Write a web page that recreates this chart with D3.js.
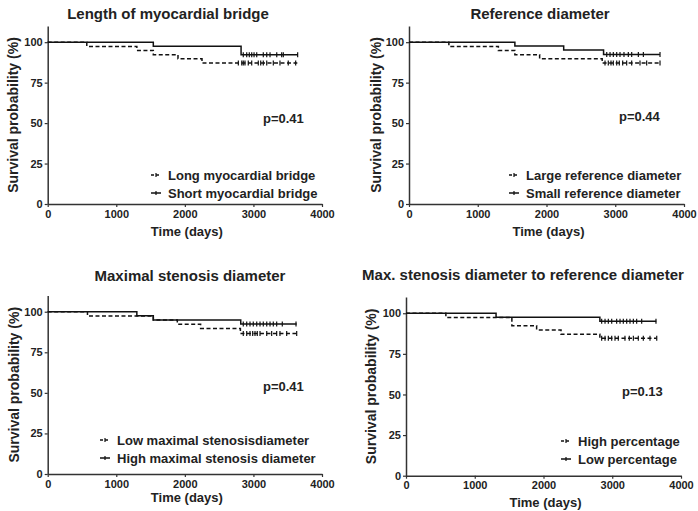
<html>
<head>
  <script src="https://d3js.org/d3.v7.min.js"></script>
  <style>
    body { margin: 0; padding: 0; background: #fff; }
    svg text { font-family: "Liberation Sans", Arial, sans-serif; font-weight: bold; fill: #222; }
  </style>
</head>
<body>
<div id="chart"></div>
<script>
// ---- data (one entry per panel) ----
const titles = [
  "Length of myocardial bridge",
  "Reference diameter",
  "Maximal stenosis diameter",
  "Max. stenosis diameter to reference diameter"
];
const pValues = ["p=0.41", "p=0.44", "p=0.41", "p=0.13"];
const dashedLabels = ["Long myocardial bridge", "Large reference diameter", "Low maximal stenosisdiameter", "High percentage"];
const solidLabels = ["Short myocardial bridge", "Small reference diameter", "High maximal stenosis diameter", "Low percentage"];

// step curves: times (days) and survival (%) after each step
const dashedTimes = [
  [0, 570, 1300, 1540, 1900, 2250, 3640],
  [0, 580, 1300, 1540, 1900, 2810, 3650],
  [0, 580, 1540, 1890, 2230, 2810, 3630],
  [0, 580, 1540, 1900, 2255, 2820, 3645]
];
const dashedSurv = [
  [100, 97.4, 94.9, 92.3, 89.7, 87.2, 87.2],
  [100, 97.4, 94.9, 92.3, 89.7, 87.1, 87.1],
  [100, 97.4, 94.9, 92.3, 89.7, 86.6, 86.6],
  [100, 97.4, 92.3, 89.7, 87.1, 84.6, 84.6]
];
const solidTimes = [
  [0, 1540, 2820, 3650],
  [0, 1540, 2250, 2830, 3650],
  [0, 1300, 1540, 2815, 3630],
  [0, 1310, 2820, 3640]
];
const solidSurv = [
  [100, 97.5, 92.3, 92.3],
  [100, 97.6, 95.1, 92.4, 92.4],
  [100, 97.5, 94.9, 92.4, 92.4],
  [100, 97.5, 95.0, 95.0]
];
// censored observations (days)
const dashedCensor = [
  [2780, 2830, 2852, 2877, 2925, 2975, 3071, 3106, 3144, 3194, 3290, 3387, 3508, 3616],
  [2851, 2899, 2938, 2972, 3021, 3059, 3108, 3166, 3239, 3360, 3457, 3651],
  [2852, 2902, 2950, 2989, 3023, 3056, 3096, 3194, 3266, 3339, 3387, 3485, 3631],
  [2846, 2895, 2943, 2992, 3040, 3088, 3185, 3248, 3307, 3379, 3452, 3549, 3647]
];
const solidCensor = [
  [2852, 2902, 2940, 2975, 3009, 3048, 3144, 3194, 3242, 3340, 3412, 3436, 3645],
  [2876, 2924, 2972, 3021, 3069, 3127, 3190, 3239, 3336, 3409, 3651],
  [2852, 2902, 2950, 2998, 3048, 3096, 3144, 3194, 3242, 3290, 3339, 3421, 3621],
  [2846, 2895, 2943, 2992, 3064, 3113, 3161, 3210, 3258, 3307, 3355, 3428, 3636]
];
const xTicks = [0, 1000, 2000, 3000, 4000];
const yTicks = [0, 25, 50, 75, 100];
const xLabel = "Time (days)";
const yLabel = "Survival probability (%)";

// ---- layout ----
const panels = [
  { x0: 47.7, x1: 322, y0: 204, y1: 26, titleX: 168, titleY: 19, pX: 263, pY: 123, legX: 151, legY: 175, xlabY: 236, ylabX: 18 },
  { x0: 409, x1: 684, y0: 204, y1: 26, titleX: 540, titleY: 19, pX: 619, pY: 121, legX: 509, legY: 175, xlabY: 236, ylabX: 381 },
  { x0: 47.7, x1: 322, y0: 474, y1: 295.5, titleX: 190, titleY: 281, pX: 263, pY: 391, legX: 100, legY: 440, xlabY: 502, ylabX: 19 },
  { x0: 406, x1: 681, y0: 475.7, y1: 297, titleX: 523, titleY: 280, pX: 622, pY: 396, legX: 561, legY: 441, xlabY: 507, ylabX: 376 }
];

const svg = d3.select("#chart").append("svg")
  .attr("width", 698)
  .attr("height", 511);

panels.forEach((p, i) => {
  const x = d3.scaleLinear().domain([0, 4000]).range([p.x0, p.x1]);
  const y = d3.scaleLinear().domain([0, 110]).range([p.y0, p.y1]);
  const g = svg.append("g");

  // axes
  const xAxis = g.append("g")
    .attr("transform", `translate(0,${p.y0})`)
    .call(d3.axisBottom(x).tickValues(xTicks).tickFormat(d3.format("d")).tickSize(3).tickSizeOuter(0).tickPadding(3));
  const yAxis = g.append("g")
    .attr("transform", `translate(${p.x0},0)`)
    .call(d3.axisLeft(y).tickValues(yTicks).tickSize(3).tickSizeOuter(0).tickPadding(2));
  [xAxis, yAxis].forEach(a => {
    a.select(".domain").attr("stroke", "#333").attr("stroke-width", 1.5);
    a.selectAll(".tick line").attr("stroke", "#333").attr("stroke-width", 1.2);
    a.selectAll(".tick text").attr("font-size", 11).attr("font-family", null).attr("fill", "#222");
  });

  // curves
  const line = d3.line().x(d => x(d[0])).y(d => y(d[1])).curve(d3.curveStepAfter);
  const groups = [
    { t: dashedTimes[i], s: dashedSurv[i], c: dashedCensor[i], dash: "4,2.5" },
    { t: solidTimes[i], s: solidSurv[i], c: solidCensor[i], dash: null }
  ];
  groups.forEach(grp => {
    const pts = grp.t.map((t, k) => [t, grp.s[k]]);
    g.append("path")
      .attr("d", line(pts))
      .attr("fill", "none")
      .attr("stroke", "#111")
      .attr("stroke-width", 1.5)
      .attr("stroke-dasharray", grp.dash);
    const survAt = t => {
      let v = grp.s[0];
      grp.t.forEach((tt, k) => { if (tt <= t) v = grp.s[k]; });
      return v;
    };
    g.selectAll(null).data(grp.c).enter().append("line")
      .attr("x1", d => x(d)).attr("x2", d => x(d))
      .attr("y1", d => y(survAt(d)) - 2.5).attr("y2", d => y(survAt(d)) + 2.5)
      .attr("stroke", "#111").attr("stroke-width", 1.2);
  });

  // title
  g.append("text").attr("x", p.titleX).attr("y", p.titleY)
    .attr("text-anchor", "middle").attr("font-size", 15).text(titles[i]);
  // axis labels
  g.append("text").attr("x", (p.x0 + p.x1) / 2 + 2).attr("y", p.xlabY)
    .attr("text-anchor", "middle").attr("font-size", 13).text(xLabel);
  g.append("text")
    .attr("transform", `translate(${p.ylabX},${y(55)}) rotate(-90)`)
    .attr("text-anchor", "middle").attr("font-size", 14).text(yLabel);
  // p value
  g.append("text").attr("x", p.pX).attr("y", p.pY).attr("font-size", 13).text(pValues[i]);

  // legend
  [[dashedLabels[i], "3,2"], [solidLabels[i], null]].forEach((item, k) => {
    const ly = p.legY + k * 18;
    g.append("line").attr("x1", p.legX).attr("x2", p.legX + 10)
      .attr("y1", ly).attr("y2", ly)
      .attr("stroke", "#111").attr("stroke-width", 1.5).attr("stroke-dasharray", item[1]);
    g.append("line").attr("x1", p.legX + 5).attr("x2", p.legX + 5)
      .attr("y1", ly - 2).attr("y2", ly + 2)
      .attr("stroke", "#111").attr("stroke-width", 1.2);
    g.append("text").attr("x", p.legX + 17).attr("y", ly + 4.5)
      .attr("font-size", 13).text(item[0]);
  });
});
</script>
</body>
</html>
